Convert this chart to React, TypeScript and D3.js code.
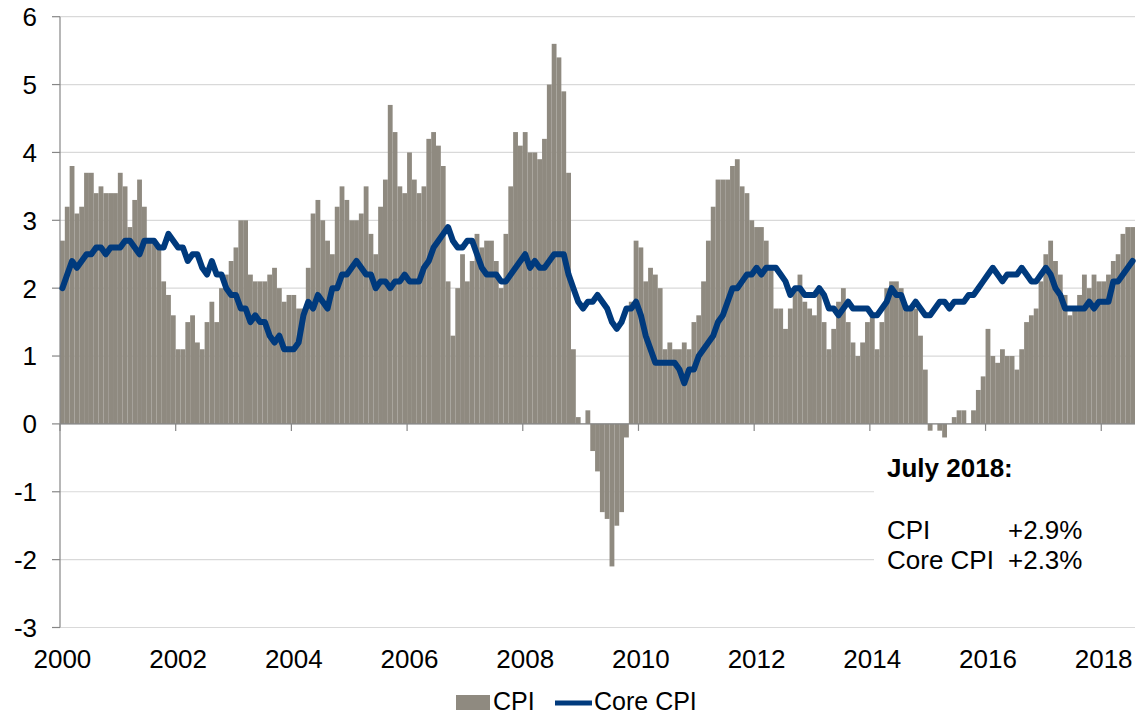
import React, { useEffect } from "react";
import * as d3 from "d3";

// ---------- data (year-over-year % change, monthly, Jan 2000 – Jul 2018) ----------
const startYear = 2000;

const cpi: number[] = [
  // 2000
  2.7, 3.2, 3.8, 3.1, 3.2, 3.7, 3.7, 3.4, 3.5, 3.4, 3.4, 3.4,
  // 2001
  3.7, 3.5, 2.9, 3.3, 3.6, 3.2, 2.7, 2.7, 2.6, 2.1, 1.9, 1.6,
  // 2002
  1.1, 1.1, 1.5, 1.6, 1.2, 1.1, 1.5, 1.8, 1.5, 2.0, 2.2, 2.4,
  // 2003
  2.6, 3.0, 3.0, 2.2, 2.1, 2.1, 2.1, 2.2, 2.3, 2.0, 1.8, 1.9,
  // 2004
  1.9, 1.7, 1.7, 2.3, 3.1, 3.3, 3.0, 2.7, 2.5, 3.2, 3.5, 3.3,
  // 2005
  3.0, 3.0, 3.1, 3.5, 2.8, 2.5, 3.2, 3.6, 4.7, 4.3, 3.5, 3.4,
  // 2006
  4.0, 3.6, 3.4, 3.5, 4.2, 4.3, 4.1, 3.8, 2.1, 1.3, 2.0, 2.5,
  // 2007
  2.1, 2.4, 2.8, 2.6, 2.7, 2.7, 2.4, 2.0, 2.8, 3.5, 4.3, 4.1,
  // 2008
  4.3, 4.0, 4.0, 3.9, 4.2, 5.0, 5.6, 5.4, 4.9, 3.7, 1.1, 0.1,
  // 2009
  0.0, 0.2, -0.4, -0.7, -1.3, -1.4, -2.1, -1.5, -1.3, -0.2, 1.8, 2.7,
  // 2010
  2.6, 2.1, 2.3, 2.2, 2.0, 1.1, 1.2, 1.1, 1.1, 1.2, 1.1, 1.5,
  // 2011
  1.6, 2.1, 2.7, 3.2, 3.6, 3.6, 3.6, 3.8, 3.9, 3.5, 3.4, 3.0,
  // 2012
  2.9, 2.9, 2.7, 2.3, 1.7, 1.7, 1.4, 1.7, 2.0, 2.2, 1.8, 1.7,
  // 2013
  1.6, 2.0, 1.5, 1.1, 1.4, 1.8, 2.0, 1.5, 1.2, 1.0, 1.2, 1.5,
  // 2014
  1.6, 1.1, 1.5, 2.0, 2.1, 2.1, 2.0, 1.7, 1.7, 1.7, 1.3, 0.8,
  // 2015
  -0.1, 0.0, -0.1, -0.2, 0.0, 0.1, 0.2, 0.2, 0.0, 0.2, 0.5, 0.7,
  // 2016
  1.4, 1.0, 0.9, 1.1, 1.0, 1.0, 0.8, 1.1, 1.5, 1.6, 1.7, 2.1,
  // 2017
  2.5, 2.7, 2.4, 2.2, 1.9, 1.6, 1.7, 1.9, 2.2, 2.0, 2.2, 2.1,
  // 2018
  2.1, 2.2, 2.4, 2.5, 2.8, 2.9, 2.9,
];

const coreCpi: number[] = [
  // 2000
  2.0, 2.2, 2.4, 2.3, 2.4, 2.5, 2.5, 2.6, 2.6, 2.5, 2.6, 2.6,
  // 2001
  2.6, 2.7, 2.7, 2.6, 2.5, 2.7, 2.7, 2.7, 2.6, 2.6, 2.8, 2.7,
  // 2002
  2.6, 2.6, 2.4, 2.5, 2.5, 2.3, 2.2, 2.4, 2.2, 2.2, 2.0, 1.9,
  // 2003
  1.9, 1.7, 1.7, 1.5, 1.6, 1.5, 1.5, 1.3, 1.2, 1.3, 1.1, 1.1,
  // 2004
  1.1, 1.2, 1.6, 1.8, 1.7, 1.9, 1.8, 1.7, 2.0, 2.0, 2.2, 2.2,
  // 2005
  2.3, 2.4, 2.3, 2.2, 2.2, 2.0, 2.1, 2.1, 2.0, 2.1, 2.1, 2.2,
  // 2006
  2.1, 2.1, 2.1, 2.3, 2.4, 2.6, 2.7, 2.8, 2.9, 2.7, 2.6, 2.6,
  // 2007
  2.7, 2.7, 2.5, 2.3, 2.2, 2.2, 2.2, 2.1, 2.1, 2.2, 2.3, 2.4,
  // 2008
  2.5, 2.3, 2.4, 2.3, 2.3, 2.4, 2.5, 2.5, 2.5, 2.2, 2.0, 1.8,
  // 2009
  1.7, 1.8, 1.8, 1.9, 1.8, 1.7, 1.5, 1.4, 1.5, 1.7, 1.7, 1.8,
  // 2010
  1.6, 1.3, 1.1, 0.9, 0.9, 0.9, 0.9, 0.9, 0.8, 0.6, 0.8, 0.8,
  // 2011
  1.0, 1.1, 1.2, 1.3, 1.5, 1.6, 1.8, 2.0, 2.0, 2.1, 2.2, 2.2,
  // 2012
  2.3, 2.2, 2.3, 2.3, 2.3, 2.2, 2.1, 1.9, 2.0, 2.0, 1.9, 1.9,
  // 2013
  1.9, 2.0, 1.9, 1.7, 1.7, 1.6, 1.7, 1.8, 1.7, 1.7, 1.7, 1.7,
  // 2014
  1.6, 1.6, 1.7, 1.8, 2.0, 1.9, 1.9, 1.7, 1.7, 1.8, 1.7, 1.6,
  // 2015
  1.6, 1.7, 1.8, 1.8, 1.7, 1.8, 1.8, 1.8, 1.9, 1.9, 2.0, 2.1,
  // 2016
  2.2, 2.3, 2.2, 2.1, 2.2, 2.2, 2.2, 2.3, 2.2, 2.1, 2.1, 2.2,
  // 2017
  2.3, 2.2, 2.0, 1.9, 1.7, 1.7, 1.7, 1.7, 1.7, 1.8, 1.7, 1.8,
  // 2018
  1.8, 1.8, 2.1, 2.1, 2.2, 2.3, 2.4,
];

const months: string[] = cpi.map((_, i) => {
  const y = startYear + Math.floor(i / 12);
  const m = (i % 12) + 1;
  return `${y}-${String(m).padStart(2, "0")}`;
});

const yTicks: number[] = [-3, -2, -1, 0, 1, 2, 3, 4, 5, 6];
const xTickLabels: string[] = ["2000", "2002", "2004", "2006", "2008", "2010", "2012", "2014", "2016", "2018"];
const legendLabels: string[] = ["CPI", "Core CPI"];
const noteTitle = "July 2018:";
const noteRows: [string, string][] = [
  ["CPI", "+2.9%"],
  ["Core CPI", "+2.3%"],
];

// ---------- styling ----------
const W = 1137;
const H = 716;
const FONT = "Arial, 'Liberation Sans', Helvetica, sans-serif";
const BAR = "#8f8a80";
const LINE = "#003a7d";
const GRID = "#d9d9d9";
const AXIS = "#868686";

export default function App() {
  useEffect(() => {
    document.body.style.margin = "0";
  }, []);

  const x = d3
    .scaleBand<string>()
    .domain(months)
    .range([60, 1135])
    .paddingInner(0)
    .paddingOuter(0);
  const bw = x.bandwidth();
  const y = d3.scaleLinear().domain([-3, 6]).range([627.5, 16.7]);

  const line = d3
    .line<number>()
    .x((_, i) => (x(months[i]) as number) + bw / 2)
    .y((d) => y(d));

  const tickMonths = xTickLabels.map((lab) => `${lab}-01`);

  return (
    <svg
      width={W}
      height={H}
      style={{ position: "absolute", left: 0, top: 0, display: "block", background: "#fff" }}
      fontFamily={FONT}
    >
      {/* gridlines */}
      {yTicks.map((t) => (
        <line key={`g${t}`} x1={60} x2={1135} y1={y(t)} y2={y(t)} stroke={GRID} strokeWidth={1.2} />
      ))}

      {/* bars */}
      {cpi.map((v, i) => {
        const x0 = x(months[i]) as number;
        const y0 = y(Math.max(0, v));
        const h = Math.abs(y(v) - y(0));
        return <rect key={`b${i}`} x={x0} y={y0} width={bw} height={h} fill={BAR} />;
      })}

      {/* annotation background */}
      <rect x={874} y={440} width={W - 874} height={160} fill="#fff" />

      {/* x axis line at zero */}
      <line x1={60} x2={1135} y1={y(0)} y2={y(0)} stroke={AXIS} strokeWidth={1.2} />
      {tickMonths.map((m) => (
        <line
          key={`xt${m}`}
          x1={x(m) as number}
          x2={x(m) as number}
          y1={y(0)}
          y2={y(0) + 7}
          stroke={AXIS}
          strokeWidth={1.2}
        />
      ))}

      {/* y axis */}
      <line x1={60} x2={60} y1={y(6)} y2={y(-3)} stroke={AXIS} strokeWidth={1.2} />
      {yTicks.map((t) => (
        <g key={`yt${t}`}>
          <line x1={52} x2={60} y1={y(t)} y2={y(t)} stroke={AXIS} strokeWidth={1.2} />
          <text x={37} y={y(t)} dy="0.36em" textAnchor="end" fontSize={26} fill="#000">
            {t}
          </text>
        </g>
      ))}

      {/* core CPI line */}
      <path
        d={line(coreCpi) || ""}
        fill="none"
        stroke={LINE}
        strokeWidth={6}
        strokeLinejoin="round"
        strokeLinecap="round"
      />

      {/* x tick labels */}
      {tickMonths.map((m, i) => (
        <text
          key={`xl${m}`}
          x={(x(m) as number) + bw / 2}
          y={668}
          textAnchor="middle"
          fontSize={26}
          fill="#000"
        >
          {xTickLabels[i]}
        </text>
      ))}

      {/* annotation */}
      <text x={887} y={477} fontSize={26} fontWeight="bold" fill="#000">
        {noteTitle}
      </text>
      {noteRows.map((r, i) => (
        <g key={`nr${i}`}>
          <text x={887} y={539 + i * 30} fontSize={26} fill="#000">
            {r[0]}
          </text>
          <text x={1008} y={539 + i * 30} fontSize={26} fill="#000">
            {r[1]}
          </text>
        </g>
      ))}

      {/* legend */}
      <rect x={456} y={695} width={34} height={15} fill={BAR} />
      <text x={493} y={710} fontSize={25} fill="#000">
        {legendLabels[0]}
      </text>
      <line x1={555} x2={592} y1={703} y2={703} stroke={LINE} strokeWidth={5} />
      <text x={594} y={710} fontSize={25} fill="#000">
        {legendLabels[1]}
      </text>
    </svg>
  );
}
